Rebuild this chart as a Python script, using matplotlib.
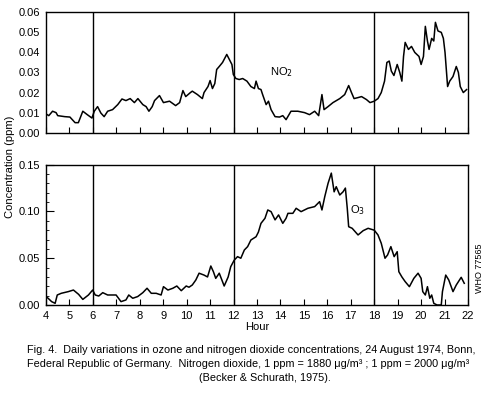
import matplotlib
matplotlib.use("Agg")
import matplotlib.pyplot as plt
from matplotlib.ticker import MultipleLocator

plt.rcParams["font.family"] = ["Liberation Sans", "DejaVu Sans"]
plt.rcParams["font.size"] = 8

# values (hour of day, ppm)
no2_hour = [4.05, 4.12, 4.28, 4.43, 4.50, 4.80, 5.02, 5.24, 5.38, 5.57, 5.76, 5.96,
            6.06, 6.20, 6.34, 6.48, 6.63, 6.84, 7.06, 7.24, 7.41, 7.59, 7.77, 7.92,
            8.13, 8.27, 8.39, 8.53, 8.63, 8.84, 9.01, 9.27, 9.53, 9.70, 9.84, 9.96,
            10.16, 10.24, 10.46, 10.67, 10.74, 10.91, 11.00, 11.10, 11.20, 11.28,
            11.39, 11.53, 11.71, 11.82, 11.93, 11.99, 12.10, 12.24, 12.39, 12.57,
            12.74, 12.89, 12.96, 13.06, 13.17, 13.24, 13.39, 13.49, 13.60, 13.77,
            13.96, 14.10, 14.24, 14.45, 14.74, 15.03, 15.24, 15.46, 15.63, 15.77,
            15.86, 16.03, 16.24, 16.53, 16.74, 16.91, 17.03, 17.14, 17.31, 17.46,
            17.67, 17.82, 18.00, 18.16, 18.30, 18.44, 18.54, 18.64, 18.73, 18.84,
            18.98, 19.09, 19.18, 19.25, 19.32, 19.46, 19.59, 19.73, 19.91, 20.00,
            20.10, 20.18, 20.27, 20.34, 20.45, 20.54, 20.61, 20.72, 20.86, 20.95,
            21.02, 21.13, 21.22, 21.36, 21.50, 21.59, 21.67, 21.80, 21.94]
no2_ppm = [0.0090, 0.0085, 0.0107, 0.0100, 0.0085, 0.0080, 0.0078, 0.0050, 0.0050,
           0.0107, 0.0090, 0.0073, 0.0107, 0.0130, 0.0098, 0.0080, 0.0107, 0.0115,
           0.0140, 0.0168, 0.0160, 0.0170, 0.0150, 0.0170, 0.0140, 0.0130, 0.0107,
           0.0130, 0.0160, 0.0185, 0.0150, 0.0157, 0.0135, 0.0150, 0.0210, 0.0180,
           0.0200, 0.0207, 0.0190, 0.0170, 0.0200, 0.0230, 0.0260, 0.0220, 0.0245,
           0.0315, 0.0330, 0.0350, 0.0390, 0.0365, 0.0340, 0.0290, 0.0270, 0.0265,
           0.0270, 0.0257, 0.0230, 0.0220, 0.0257, 0.0220, 0.0215, 0.0190, 0.0140,
           0.0157, 0.0115, 0.0080, 0.0078, 0.0085, 0.0065, 0.0107, 0.0107, 0.0100,
           0.0090, 0.0107, 0.0085, 0.0190, 0.0115, 0.0130, 0.0150, 0.0170, 0.0190,
           0.0235, 0.0200, 0.0170, 0.0175, 0.0180, 0.0165, 0.0150, 0.0157, 0.0170,
           0.0200, 0.0257, 0.0350, 0.0357, 0.0307, 0.0285, 0.0340, 0.0300, 0.0257,
           0.0380, 0.0450, 0.0415, 0.0430, 0.0400, 0.0380, 0.0340, 0.0380, 0.0530,
           0.0457, 0.0415, 0.0470, 0.0457, 0.0550, 0.0507, 0.0500, 0.0470, 0.0400,
           0.0230, 0.0257, 0.0280, 0.0330, 0.0300, 0.0230, 0.0200, 0.0215]

o3_hour = [4.05, 4.09, 4.24, 4.39, 4.48, 4.65, 4.95, 5.17, 5.39, 5.57, 5.81, 5.99,
           6.10, 6.25, 6.42, 6.63, 6.99, 7.20, 7.41, 7.53, 7.70, 7.91, 8.13, 8.31,
           8.49, 8.70, 8.91, 9.01, 9.20, 9.41, 9.58, 9.77, 9.98, 10.10, 10.24, 10.39,
           10.53, 10.74, 10.89, 11.03, 11.14, 11.24, 11.39, 11.60, 11.77, 11.88,
           12.03, 12.17, 12.31, 12.46, 12.60, 12.74, 12.96, 13.06, 13.17, 13.34,
           13.46, 13.60, 13.77, 13.92, 14.10, 14.24, 14.32, 14.53, 14.67, 14.88,
           15.17, 15.46, 15.67, 15.77, 15.89, 16.03, 16.17, 16.29, 16.38, 16.53,
           16.67, 16.77, 16.85, 16.91, 17.06, 17.31, 17.53, 17.74, 18.00, 18.16,
           18.30, 18.46, 18.57, 18.71, 18.85, 18.98, 19.05, 19.18, 19.32, 19.50,
           19.69, 19.87, 20.00, 20.07, 20.18, 20.27, 20.37, 20.45, 20.54, 20.68,
           20.86, 20.91, 21.05, 21.18, 21.36, 21.50, 21.71, 21.84]
o3_ppm = [0.0080, 0.0072, 0.0036, 0.0018, 0.0107, 0.0125, 0.0143, 0.0160, 0.0114,
          0.0060, 0.0107, 0.0160, 0.0107, 0.0096, 0.0132, 0.0107, 0.0107, 0.0036,
          0.0054, 0.0107, 0.0072, 0.0090, 0.0132, 0.0179, 0.0125, 0.0125, 0.0107,
          0.0196, 0.0160, 0.0179, 0.0203, 0.0153, 0.0203, 0.0190, 0.0214, 0.0267,
          0.0340, 0.0320, 0.0300, 0.0417, 0.0356, 0.0285, 0.0340, 0.0203, 0.0300,
          0.0410, 0.0480, 0.0517, 0.0500, 0.0588, 0.0624, 0.0695, 0.0730, 0.0780,
          0.0873, 0.0927, 0.1016, 0.0998, 0.0910, 0.0963, 0.0873, 0.0927, 0.0980,
          0.0980, 0.1034, 0.0998, 0.1034, 0.1052, 0.1105, 0.1016, 0.1158, 0.1300,
          0.1410, 0.1210, 0.1265, 0.1176, 0.1210, 0.1250, 0.1034, 0.0837, 0.0820,
          0.0749, 0.0795, 0.0820, 0.0800, 0.0749, 0.0660, 0.0500, 0.0535, 0.0624,
          0.0517, 0.0570, 0.0356, 0.0300, 0.0250, 0.0196, 0.0285, 0.0340, 0.0285,
          0.0143, 0.0107, 0.0196, 0.0072, 0.0107, 0.0018, 0.0000, 0.0000, 0.0143,
          0.0320, 0.0267, 0.0143, 0.0214, 0.0296, 0.0232]

hour_ticks = list(range(4, 23))
divider_hours = [6, 12, 18]

fig = plt.figure(figsize=(4.95, 3.95), dpi=100)
left = 46 / 495
width = (468 - 46) / 495
ax1 = fig.add_axes([left, 1 - 132.7 / 395, width, 120.4 / 395])
ax2 = fig.add_axes([left, 1 - 305 / 395, width, 140.3 / 395])

for ax in (ax1, ax2):
    for h in divider_hours:
        ax.axvline(h, color="black", lw=1.0)
    ax.set_xlim(4, 22)
    ax.set_xticks(hour_ticks)
    for s in ax.spines.values():
        s.set_linewidth(1.0)

ax1.plot(no2_hour, no2_ppm, color="black", lw=1.1)
ax1.set_ylim(0, 0.06)
ax1.set_yticks([0, 0.01, 0.02, 0.03, 0.04, 0.05, 0.06])
ax1.set_yticklabels(["0.00", "0.01", "0.02", "0.03", "0.04", "0.05", "0.06"])
ax1.tick_params(axis="y", length=0, pad=4)
ax1.tick_params(axis="x", direction="in", length=4, labelbottom=False)
ax1.text(14.05, 0.030, "NO$_2$", ha="center", va="center", fontsize=8)

ax2.plot(o3_hour, o3_ppm, color="black", lw=1.1)
ax2.set_ylim(0, 0.15)
ax2.set_yticks([0, 0.05, 0.10, 0.15])
ax2.set_yticklabels(["0.00", "0.05", "0.10", "0.15"])
ax2.yaxis.set_minor_locator(MultipleLocator(0.01))
ax2.tick_params(axis="y", which="major", direction="in", length=6, pad=4)
ax2.tick_params(axis="y", which="minor", direction="in", length=2.5)
ax2.tick_params(axis="x", direction="in", length=4, pad=4)
ax2.text(17.3, 0.101, "O$_3$", ha="center", va="center", fontsize=8)
ax2.set_xlabel("Hour", labelpad=1)

fig.text(10 / 495, 1 - 167 / 395, "Concentration (ppm)", rotation=90,
         ha="center", va="center", fontsize=8)
fig.text(480 / 495, 1 - 268 / 395, "WHO 77565", rotation=90,
         ha="center", va="center", fontsize=6.5)

fig.text(27 / 495, 1 - 350 / 395,
         "Fig. 4.  Daily variations in ozone and nitrogen dioxide concentrations, 24 August 1974, Bonn,",
         ha="left", va="center", fontsize=7.8)
fig.text(27 / 495, 1 - 364 / 395,
         "Federal Republic of Germany.  Nitrogen dioxide, 1 ppm = 1880 \u03bcg/m\u00b3 ; 1 ppm = 2000 \u03bcg/m\u00b3",
         ha="left", va="center", fontsize=7.8)
fig.text(265 / 495, 1 - 378 / 395, "(Becker & Schurath, 1975).",
         ha="center", va="center", fontsize=7.8)

fig.savefig("out.png", dpi=100)
